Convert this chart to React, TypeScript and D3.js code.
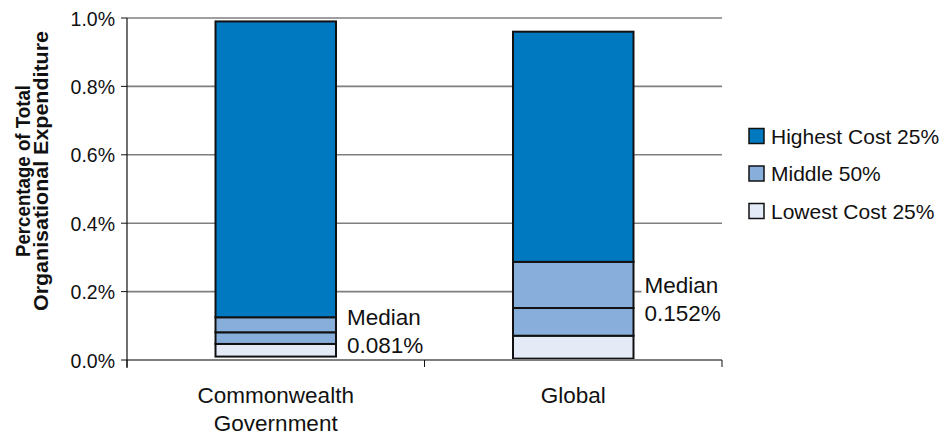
import React from "react";
import * as d3 from "d3";

// Organisations compared
const categories = ["Commonwealth Government", "Global"];
const categoryLines = [["Commonwealth", "Government"], ["Global"]];

// Distribution of cost (% of total organisational expenditure)
const minimumValues = [0.01, 0.004];
const lowerQuartile = [0.047, 0.071];
const medianValues = [0.081, 0.152];
const upperQuartile = [0.125, 0.287];
const maximumValues = [0.99, 0.96];

const medianLabels = ["0.081%", "0.152%"];

const yTicks = [0, 0.2, 0.4, 0.6, 0.8, 1.0];

const legendItems = [
  { name: "Highest Cost 25%", color: "#0079C1" },
  { name: "Middle 50%", color: "#88AFDC" },
  { name: "Lowest Cost 25%", color: "#E4EBF7" },
];

const W = 947;
const H = 436;
const FONT = "'Liberation Sans', Arial, sans-serif";

export default function App() {
  const x = d3.scaleBand<string>().domain(categories).range([127, 722]).padding(0);
  const y = d3.scaleLinear().domain([0, 1.0]).range([360, 18]);
  const barW = x.bandwidth() * 0.405;

  const segments = categories.flatMap((c, i) => {
    const cx = (x(c) as number) + x.bandwidth() / 2;
    const bounds = [minimumValues[i], lowerQuartile[i], medianValues[i], upperQuartile[i], maximumValues[i]];
    const fills = [legendItems[2].color, legendItems[1].color, legendItems[1].color, legendItems[0].color];
    return fills.map((f, k) => ({
      key: `${c}-${k}`,
      x: cx - barW / 2,
      y0: y(bounds[k]),
      y1: y(bounds[k + 1]),
      fill: f,
    }));
  });

  return (
    <svg
      width={W}
      height={H}
      style={{ position: "absolute", left: 0, top: 0, background: "#fff" }}
      fontFamily={FONT}
    >
      {/* gridlines */}
      {yTicks.slice(1).map((t) => (
        <line key={t} x1={127} x2={722} y1={y(t)} y2={y(t)} stroke="#7f7f7f" strokeWidth={1.6} />
      ))}

      {/* bars */}
      {segments.map((s) => (
        <rect
          key={s.key}
          x={s.x}
          y={s.y1}
          width={barW}
          height={s.y0 - s.y1}
          fill={s.fill}
          stroke="#111"
          strokeWidth={2}
        />
      ))}

      {/* x axis */}
      <line x1={127} x2={722} y1={y(0)} y2={y(0)} stroke="#7f7f7f" strokeWidth={2} />
      {[127, 127 + x.bandwidth(), 722].map((px, i) => (
        <line key={i} x1={px} x2={px} y1={y(0)} y2={y(0) + 7} stroke="#111" strokeWidth={1} />
      ))}

      {/* y axis */}
      <line x1={127} x2={127} y1={y(1.0)} y2={y(0) + 8} stroke="#111" strokeWidth={1.2} />
      {yTicks.map((t) => (
        <g key={t}>
          <line x1={121} x2={127} y1={y(t)} y2={y(t)} stroke="#111" strokeWidth={1} />
          <text x={115} y={y(t) + 7.5} textAnchor="end" fontSize={19.5} fill="#111">
            {d3.format(".1f")(t) + "%"}
          </text>
        </g>
      ))}

      {/* y axis title */}
      <g transform={`translate(0, ${171}) rotate(-90)`} fontWeight="bold" fontSize={20} fill="#111" textAnchor="middle">
        <text x={0} y={30} textLength={172} lengthAdjust="spacingAndGlyphs">Percentage of Total</text>
        <text x={0} y={48} textLength={280} lengthAdjust="spacingAndGlyphs">Organisational Expenditure</text>
      </g>

      {/* category labels */}
      {categories.map((c, i) => (
        <text
          key={c}
          x={(x(c) as number) + x.bandwidth() / 2}
          y={403}
          textAnchor="middle"
          fontSize={22.5}
          fill="#111"
        >
          {categoryLines[i].map((ln, j) => (
            <tspan key={j} x={(x(c) as number) + x.bandwidth() / 2} dy={j === 0 ? 0 : 28}>
              {ln}
            </tspan>
          ))}
        </text>
      ))}

      {/* median labels, centred on the middle 50% */}
      {categories.map((c, i) => {
        const lx = (x(c) as number) + x.bandwidth() / 2 + barW / 2 + 11;
        const cy = y((lowerQuartile[i] + upperQuartile[i]) / 2);
        return (
          <g key={c}>
            <rect x={lx - 3} y={cy - 26} width={84} height={54} fill="#fff" />
            <text x={lx} y={cy - 6} fontSize={22.5} fill="#111">Median</text>
            <text x={lx} y={cy + 22} fontSize={22.5} fill="#111">{medianLabels[i]}</text>
          </g>
        );
      })}

      {/* legend */}
      {legendItems.map((it, i) => {
        const cy = 136 + i * 37.5;
        return (
          <g key={it.name}>
            <rect x={749} y={cy - 7.5} width={15} height={15} fill={it.color} stroke="#111" strokeWidth={1.5} />
            <text x={771} y={cy + 7.5} fontSize={21} fill="#111">{it.name}</text>
          </g>
        );
      })}
    </svg>
  );
}
